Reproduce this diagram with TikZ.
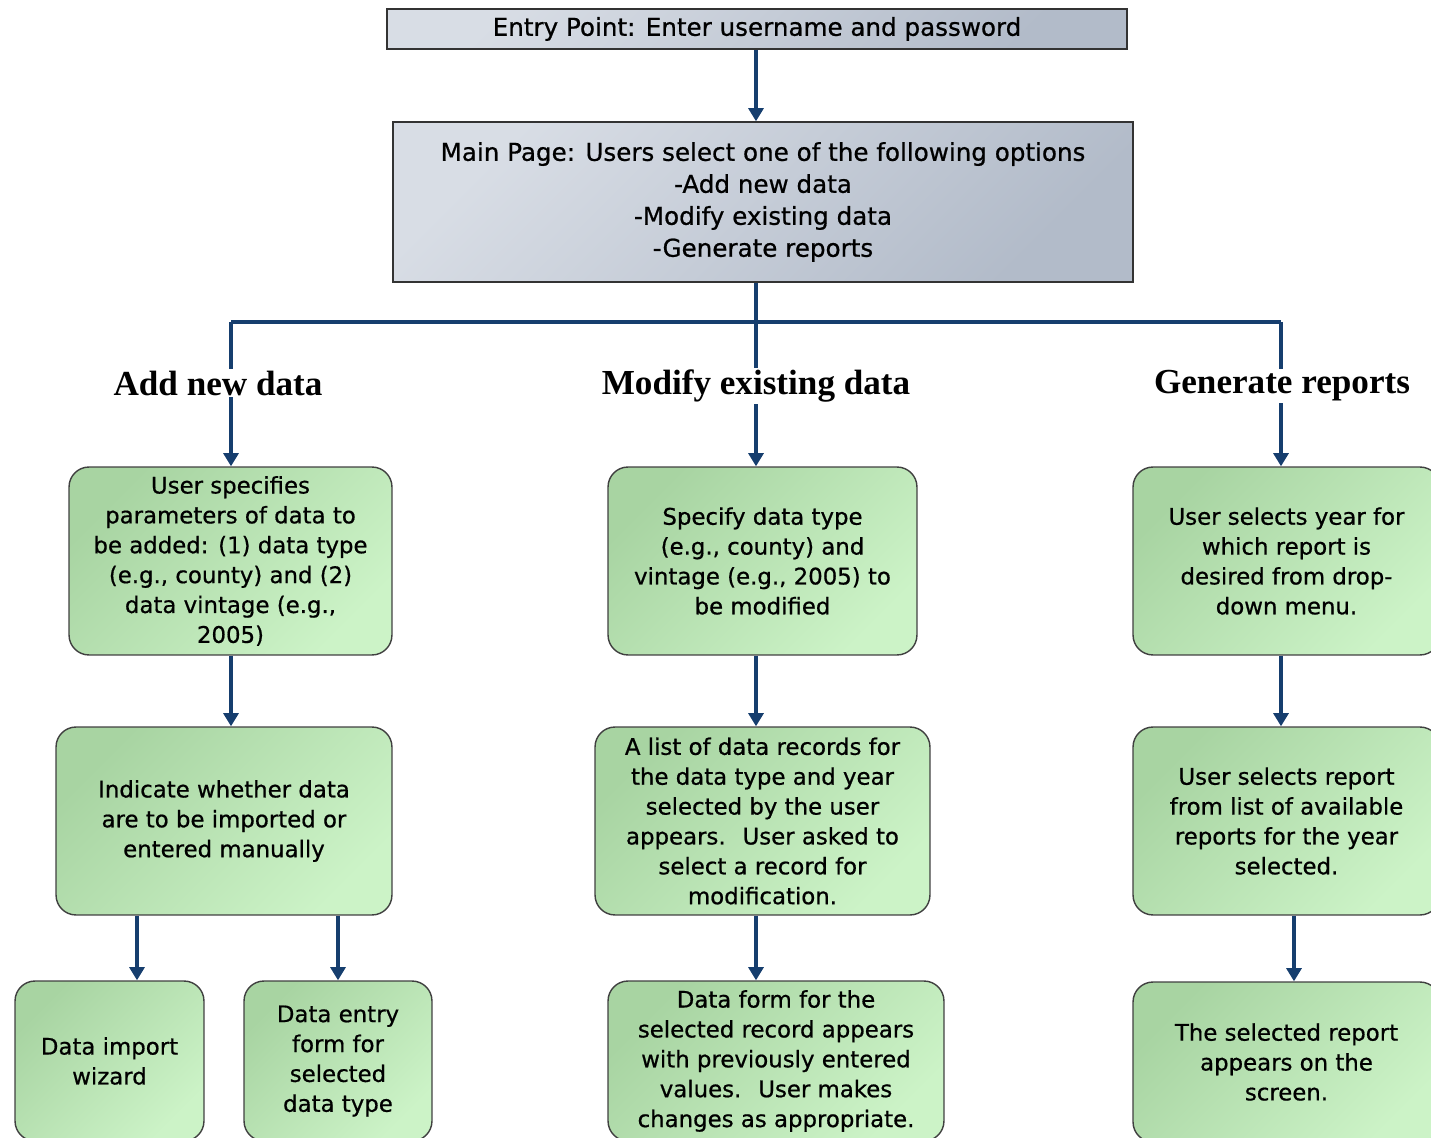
\documentclass[tikz,border=0pt]{standalone}
\usepackage{fontspec}
\setmainfont{DejaVu Sans}[UprightFeatures={FakeBold=0.7}]
\newfontfamily\headfont{Liberation Serif}
\usepackage{xcolor}
\usepackage{tikz}
\usetikzlibrary{arrows.meta,positioning}

\definecolor{navyline}{RGB}{22,62,110}
\definecolor{greylight}{RGB}{216,221,229}
\definecolor{greydark}{RGB}{178,187,201}
\definecolor{greenlight}{RGB}{204,243,199}
\definecolor{greendark}{RGB}{168,212,162}

\begin{document}
\begin{tikzpicture}
    [
    x=0.02cm, y=-0.02cm,
    topbox/.style = {draw=black!80, line width=0.8pt, rectangle, minimum width=14.8cm, align=center, top color=greylight, bottom color=greydark, shading angle=45, font=\fontsize{14}{18.2}\selectfont},
    stepbox/.style = {draw=black!75, line width=0.8pt, rectangle, rounded corners=0.4cm, minimum height=3.76cm, inner sep=2pt, align=center, top color=greendark, bottom color=greenlight, shading angle=45, font=\fontsize{13}{17}\selectfont},
    head/.style = {fill=white, inner sep=1pt, font=\headfont\bfseries\fontsize{20}{24}\selectfont},
    arrow/.style = {-{Triangle[width=8.5pt,length=7.5pt]}, line width=2.5pt, navyline},
    wire/.style = {line width=2.5pt, navyline}
    ]
    \useasboundingbox (0,0) rectangle (1431,1138);

% Nodes
    \node[topbox, minimum height=0.8cm] (entry) at (757,29) {Entry Point: Enter username and password};
    \node[topbox, minimum height=3.2cm] (mainpage) at (763,202) {Main Page: Users select one of the following options\\-Add new data\\-Modify existing data\\-Generate reports};

    \node[stepbox, minimum width=6.46cm] (addparams) at (230.5,561) {User specifies\\parameters of data to\\be added: (1) data type\\(e.g., county) and (2)\\data vintage (e.g.,\\2005)};
    \node[stepbox, minimum width=6.18cm] (modtype) at (762.5,561) {Specify data type\\(e.g., county) and\\vintage (e.g., 2005) to\\be modified};
    \node[stepbox, minimum width=6.14cm] (repyear) at (1286.5,561) {User selects year for\\which report is\\desired from drop-\\down menu.};

    \node[stepbox, minimum width=6.72cm] (addmode) at (224,821) {Indicate whether data\\are to be imported or\\entered manually};
    \node[stepbox, minimum width=6.7cm] (modlist) at (762.5,821) {A list of data records for\\the data type and year\\selected by the user\\appears.~ User asked to\\select a record for\\modification.};
    \node[stepbox, minimum width=6.14cm] (replist) at (1286.5,821) {User selects report\\from list of available\\reports for the year\\selected.};

    \node[stepbox, minimum width=3.78cm, minimum height=3.2cm] (importwiz) at (109.5,1061) {Data import\\wizard};
    \node[stepbox, minimum width=3.76cm, minimum height=3.2cm] (entryform) at (338,1061) {Data entry\\form for\\selected\\data type};
    \node[stepbox, minimum width=6.72cm, minimum height=3.2cm] (modform) at (776,1061) {Data form for the\\selected record appears\\with previously entered\\values.~ User makes\\changes as appropriate.};
    \node[stepbox, minimum width=6.14cm, minimum height=3.2cm] (repshow) at (1286.5,1062) {The selected report\\appears on the\\screen.};

    \coordinate (hub) at (756,322);
    \coordinate (lefthub) at (231,322);
    \coordinate (righthub) at (1281,322);
    \coordinate (impdrop) at (137,0);
    \coordinate (repdrop) at (1294,0);

% Arrows
    \draw[arrow] (entry.south -| hub) -- (hub |- mainpage.north);
    \draw[wire] (hub |- mainpage.south) -- (hub);
    \draw[wire] (lefthub) -- (righthub);
    \draw[arrow] (lefthub) -- (lefthub |- addparams.north);
    \draw[arrow] (hub) -- (hub |- modtype.north);
    \draw[arrow] (righthub) -- (righthub |- repyear.north);

    \draw[arrow] (lefthub |- addparams.south) -- (lefthub |- addmode.north);
    \draw[arrow] (hub |- modtype.south) -- (hub |- modlist.north);
    \draw[arrow] (righthub |- repyear.south) -- (righthub |- replist.north);

    \draw[arrow] (impdrop |- addmode.south) -- (impdrop |- importwiz.north);
    \draw[arrow] (entryform.north |- addmode.south) -- (entryform.north);
    \draw[arrow] (hub |- modlist.south) -- (hub |- modform.north);
    \draw[arrow] (repdrop |- replist.south) -- (repdrop |- repshow.north);

% Labels
    \node[head] (addhead) at (218,383) {Add new data};
    \node[head] (modhead) at (756,386) {Modify existing data};
    \node[head] (rephead) at (1282,386) {Generate reports};

\end{tikzpicture}
\end{document}
